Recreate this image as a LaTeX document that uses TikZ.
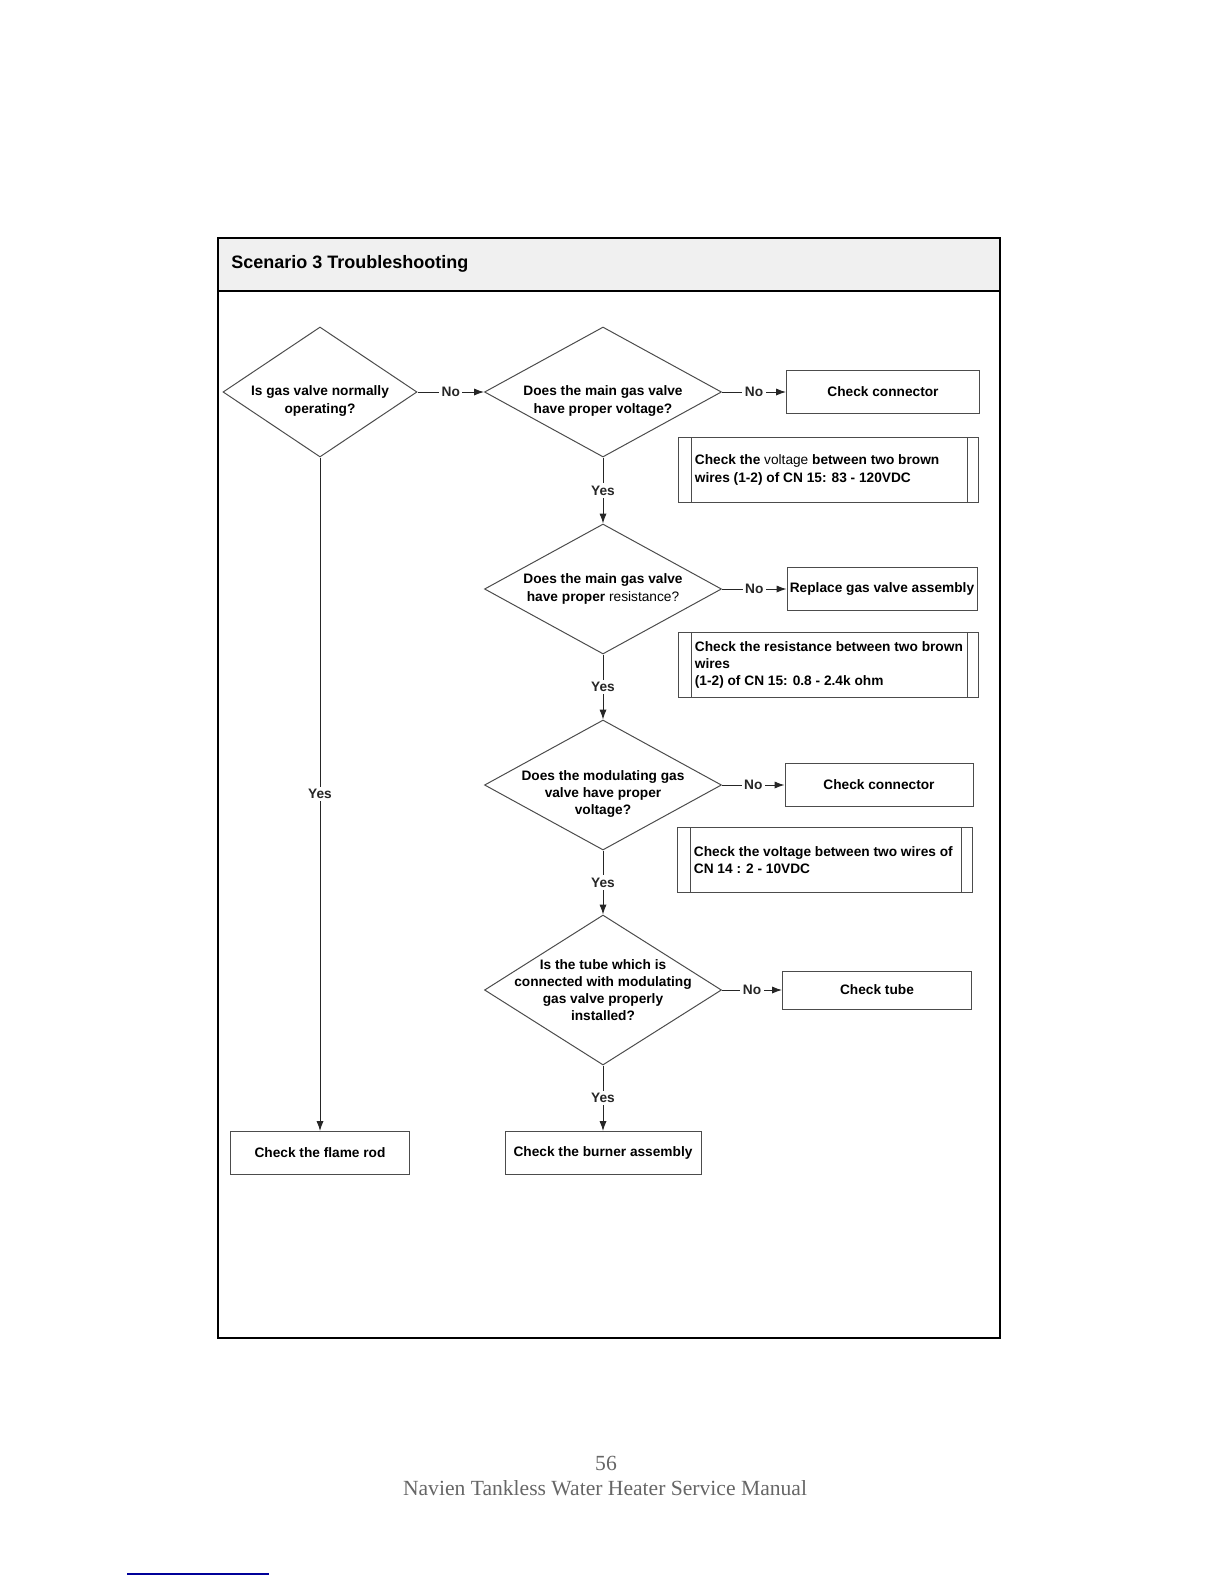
\documentclass[tikz,border=0pt]{standalone}
\usepackage{fontspec}
\setmainfont{Liberation Sans}
\newfontfamily\footfont{Liberation Serif}
\usetikzlibrary{arrows.meta,shapes.geometric}

\newcommand{\flowfont}{\fontsize{6.85}{8.6}\selectfont\bfseries}

\tikzset{
  decision/.style={diamond, draw=black!70, line width=0.5pt, inner sep=0pt,
    minimum width=118.5pt, minimum height=65pt},
  dtext/.style={font=\flowfont, align=center, inner sep=0pt},
  process/.style={rectangle, draw=black!70, line width=0.5pt, inner sep=0pt,
    minimum width=95pt, minimum height=21.5pt, font=\flowfont},
  note/.style={rectangle, draw=black!70, line width=0.5pt, inner sep=0pt,
    minimum width=150pt, minimum height=32.5pt,
    path picture={
      \draw[black!70, line width=0.5pt]
        ([xshift=6.5pt]path picture bounding box.north west) --
        ([xshift=6.5pt]path picture bounding box.south west);
      \draw[black!70, line width=0.5pt]
        ([xshift=-5.5pt]path picture bounding box.north east) --
        ([xshift=-5.5pt]path picture bounding box.south east);}},
  ntext/.style={font=\flowfont, align=left, inner sep=0pt, anchor=west, xshift=8.5pt},
  flow/.style={black!85, line width=0.5pt, -{Latex[length=5pt,width=3.6pt]}},
  answer/.style={fill=white, font=\flowfont, inner sep=1.2pt}
}

\begin{document}
\begin{tikzpicture}[x=0.5pt, y=-0.5pt]
	\useasboundingbox (0,0) rectangle (1224,1584);
	% frame and title bar
	\draw[fill=black!6, line width=1pt] (218,238) rectangle (1000,291);
	\draw[line width=1pt] (218,238) rectangle (1000,1338);
	\node[anchor=west, inner sep=0pt, font=\fontsize{9}{11}\selectfont\bfseries] (title) at (231,264) {Scenario 3 Troubleshooting};

	% decisions
	\node[decision, minimum width=97pt, label={[dtext, yshift=-4.5pt]center:{Is gas valve normally\\operating?}}] (d1) at (320,392) {};
	\node[decision, label={[dtext, yshift=-4.5pt]center:{Does the main gas valve\\have proper voltage?}}] (d2) at (603,392) {};
	\node[decision, label={[dtext]center:{Does the main gas valve\\have proper \mdseries resistance?}}] (d3) at (603,589) {};
	\node[decision, label={[dtext, yshift=-4.5pt]center:{Does the modulating gas\\valve have proper\\voltage?}}] (d4) at (603,785) {};
	\node[decision, minimum height=75pt, label={[dtext]center:{Is the tube which is\\connected with modulating\\gas valve properly\\installed?}}] (d5) at (603,990) {};

	% actions
	\node[process, minimum width=96.5pt] (conn1) at (883,392) {Check connector};
	\node[process] (replace) at (882,589) {Replace gas valve assembly};
	\node[process, minimum width=94pt] (conn2) at (879,785) {Check connector};
	\node[process, minimum width=94.5pt, minimum height=19pt] (tube) at (877,990) {Check tube};
	\node[process, minimum width=98pt] (burner) at (603,1153) {Check the burner assembly};
	\node[process, minimum width=89.5pt] (flame) at (320,1153) {Check the flame rod};

	% notes
	\node[note, label={[ntext]west:{Check the \mdseries voltage \bfseries between two brown\\wires (1-2) of CN 15: 83 - 120VDC}}] (note1) at (828,470) {};
	\node[note, label={[ntext]west:{Check the resistance between two brown\\wires\\(1-2) of CN 15: 0.8 - 2.4k ohm}}] (note2) at (828,665) {};
	\node[note, minimum width=147.5pt, label={[ntext]west:{Check the voltage between two wires of\\CN 14 : 2 - 10VDC}}] (note3) at (824.5,860) {};

	% connectors
	\draw[flow] (d1.east) -- node[answer] {No} (d2.west);
	\draw[flow] (d2.east) -- node[answer] {No} (conn1.west);
	\draw[flow] (d3.east) -- node[answer] {No} (replace.west);
	\draw[flow] (d4.east) -- node[answer] {No} (conn2.west);
	\draw[flow] (d5.east) -- node[answer] {No} (tube.west);
	\draw[flow] (d2.south) -- node[answer] {Yes} (d3.north);
	\draw[flow] (d3.south) -- node[answer] {Yes} (d4.north);
	\draw[flow] (d4.south) -- node[answer] {Yes} (d5.north);
	\draw[flow] (d5.south) -- node[answer] {Yes} (burner.north);
	\draw[flow] (d1.south) -- node[answer] {Yes} (flame.north);

	% page footer
	\node[font=\footfont\fontsize{10.8}{13}\selectfont, text=black!60] (pagenum) at (606,1463) {56};
	\node[font=\footfont\fontsize{10.8}{13}\selectfont, text=black!60] (manual) at (605,1488) {Navien Tankless Water Heater Service Manual};
	\draw[blue!60!black, line width=1pt] (127,1574) -- (269,1574);
\end{tikzpicture}
\end{document}
